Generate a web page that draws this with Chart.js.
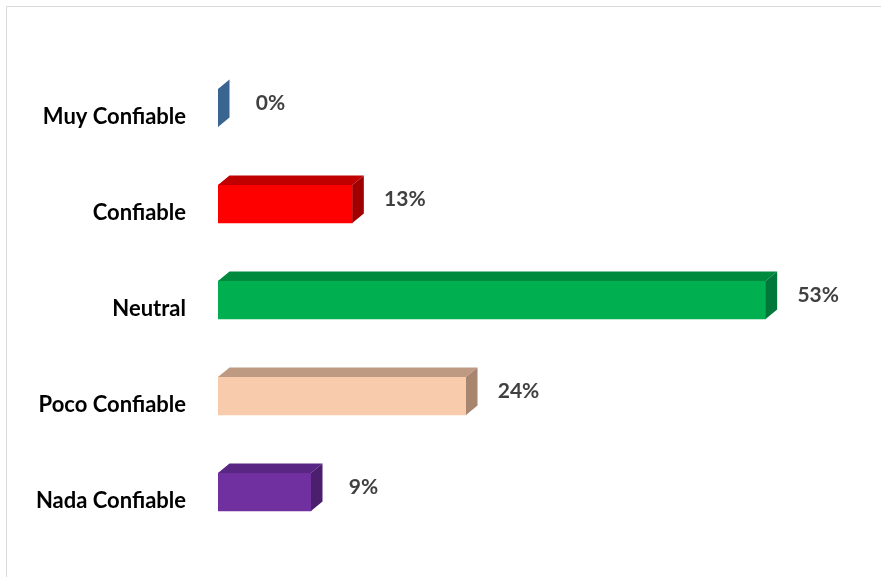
<!DOCTYPE html>
<html>
<head>
<meta charset="utf-8">
<script src="https://cdn.jsdelivr.net/npm/chart.js@4/dist/chart.umd.min.js"></script>
<style>
  html, body { margin: 0; padding: 0; background: #ffffff; overflow: hidden; }
  canvas { display: block; }
</style>
</head>
<body>
<canvas id="chart" width="881" height="577"></canvas>
<script>
// Survey answers: how trustworthy the source is considered
const categories = ['Muy Confiable', 'Confiable', 'Neutral', 'Poco Confiable', 'Nada Confiable'];
const values = [0, 13, 53, 24, 9];
const valueLabels = ['0%', '13%', '53%', '24%', '9%'];

// Face colours for the pseudo-3D bars: front, top and right side
const frontColors = ['#44709d', '#ff0000', '#00b050', '#f8cbad', '#7030a0'];
const topColors   = ['#3e6a96', '#c00000', '#008a3e', '#bf9a83', '#5a2683'];
const sideColors  = ['#3a6590', '#a00000', '#00783a', '#a8856f', '#4b1f6d'];

const DEPTH_X = 11.5;
const DEPTH_Y = 9.5;

// Draws the top and side faces that give each bar its depth
const bar3d = {
  id: 'bar3d',
  afterDatasetsDraw(chart) {
    const ctx = chart.ctx;
    const meta = chart.getDatasetMeta(0);
    meta.data.forEach((el, i) => {
      const p = el.getProps(['x', 'y', 'base', 'height'], true);
      const left = Math.min(p.base, p.x);
      const right = Math.max(p.base, p.x);
      const top = p.y - p.height / 2;
      const bottom = p.y + p.height / 2;
      ctx.save();
      // top face
      if (right - left > 0.5) {
        ctx.beginPath();
        ctx.moveTo(left, top);
        ctx.lineTo(left + DEPTH_X, top - DEPTH_Y);
        ctx.lineTo(right + DEPTH_X, top - DEPTH_Y);
        ctx.lineTo(right, top);
        ctx.closePath();
        ctx.fillStyle = topColors[i];
        ctx.fill();
      }
      // right side face
      ctx.beginPath();
      ctx.moveTo(right, top);
      ctx.lineTo(right + DEPTH_X, top - DEPTH_Y);
      ctx.lineTo(right + DEPTH_X, bottom - DEPTH_Y);
      ctx.lineTo(right, bottom);
      ctx.closePath();
      ctx.fillStyle = sideColors[i];
      ctx.fill();
      ctx.restore();
    });
  }
};

// Percentage labels placed past the end of each bar
const valueTags = {
  id: 'valueTags',
  afterDraw(chart) {
    const ctx = chart.ctx;
    const meta = chart.getDatasetMeta(0);
    ctx.save();
    ctx.font = 'bold 21px Lato, "Liberation Sans", sans-serif';
    ctx.fillStyle = '#404040';
    ctx.textAlign = 'center';
    ctx.textBaseline = 'middle';
    meta.data.forEach((el, i) => {
      const p = el.getProps(['x', 'y'], true);
      ctx.fillText(valueLabels[i], p.x + DEPTH_X + 41, p.y - 5);
    });
    ctx.restore();
  }
};

// Thin grey frame along the top and left edges
const frame = {
  id: 'frame',
  beforeDraw(chart) {
    const ctx = chart.ctx;
    ctx.save();
    ctx.strokeStyle = '#d9d9d9';
    ctx.lineWidth = 1;
    ctx.beginPath();
    ctx.moveTo(6.5, chart.height);
    ctx.lineTo(6.5, 6.5);
    ctx.lineTo(chart.width, 6.5);
    ctx.stroke();
    ctx.restore();
  }
};

new Chart(document.getElementById('chart'), {
  type: 'bar',
  data: {
    labels: categories,
    datasets: [{
      data: values,
      backgroundColor: frontColors,
      borderWidth: 0,
      barThickness: 38
    }]
  },
  options: {
    indexAxis: 'y',
    responsive: false,
    animation: false,
    devicePixelRatio: 1,
    layout: { padding: { left: 0, top: 60, right: 43, bottom: 37 } },
    plugins: {
      legend: { display: false },
      tooltip: { enabled: false }
    },
    scales: {
      x: { display: false, min: 0, max: 60 },
      y: {
        grid: { display: false, drawTicks: false },
        border: { display: false },
        afterFit(scale) {
          scale.width = 218;
          scale.paddingTop = 0;
          scale.paddingBottom = 0;
        },
        ticks: {
          padding: 32,
          labelOffset: 9,
          color: '#000000',
          font: { family: 'Lato, "Liberation Sans", sans-serif', size: 22, weight: 'bold' }
        }
      }
    }
  },
  plugins: [frame, bar3d, valueTags]
});
</script>
</body>
</html>
